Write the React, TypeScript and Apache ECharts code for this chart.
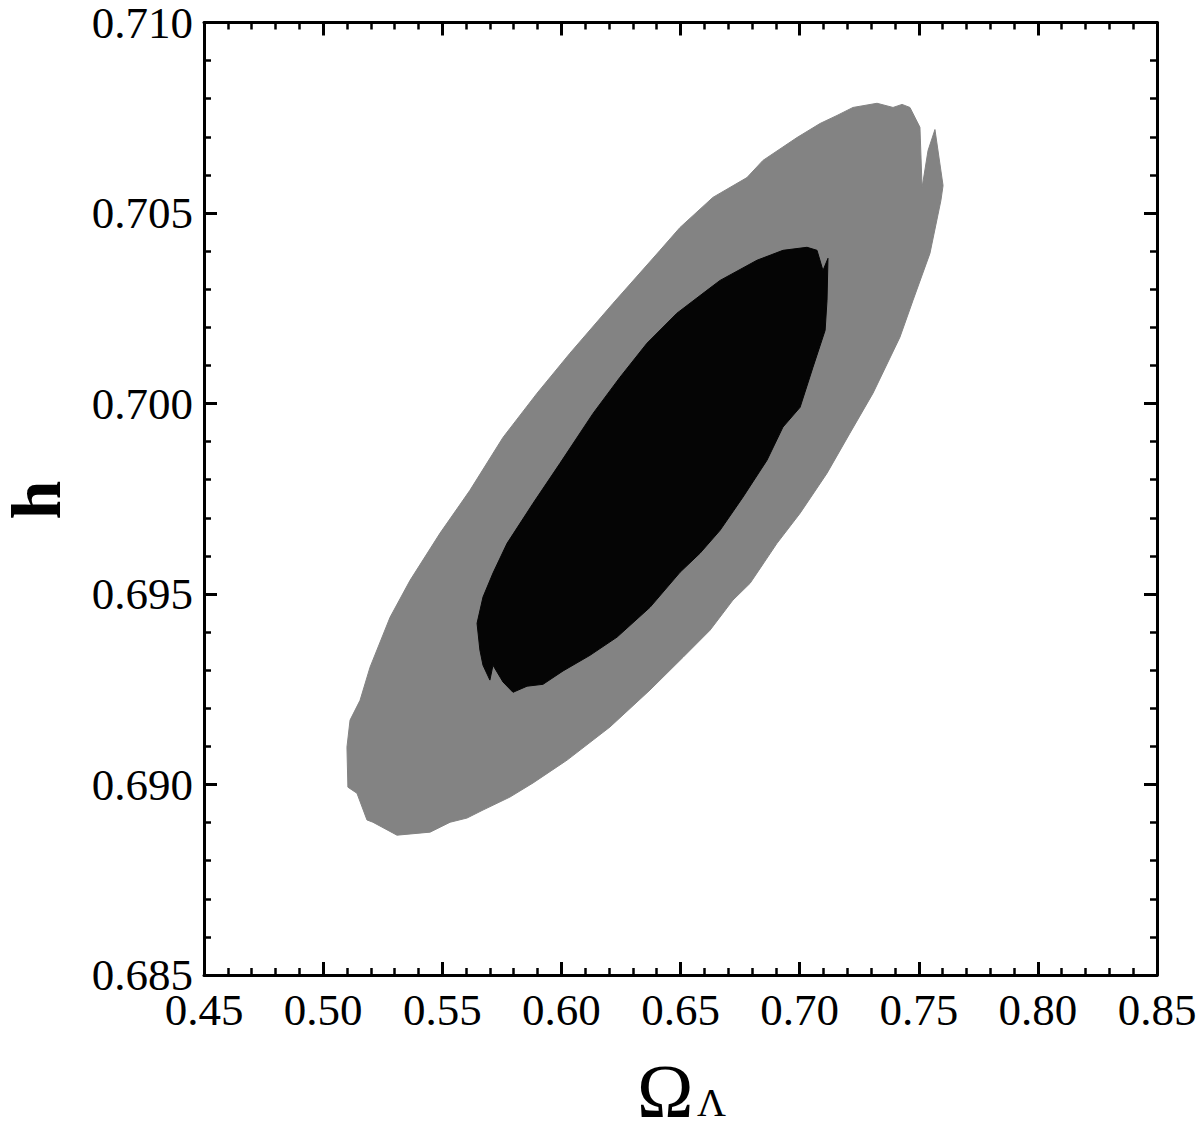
import React, { useEffect, useRef } from "react";
import * as echarts from "echarts";

// Axis ranges and ticks
const X_MIN = 0.45;
const X_MAX = 0.85;
const X_STEP = 0.05;
const Y_MIN = 0.685;
const Y_MAX = 0.71;
const Y_STEP = 0.005;

// Outer (2-sigma, gray) contour: Omega_Lambda and h
const outerOmega = [
  0.5100, 0.5104, 0.5142, 0.5184, 0.5209, 0.5310, 0.5449, 0.5491, 0.5533, 0.5604,
  0.5671, 0.5784, 0.5881, 0.6024, 0.6204, 0.6372, 0.6511, 0.6624, 0.6720, 0.6792,
  0.6905, 0.7002, 0.7115, 0.7211, 0.7308, 0.7421, 0.7476, 0.7547, 0.7593, 0.7602,
  0.7568, 0.7539, 0.7514, 0.7505, 0.7463, 0.7430, 0.7392, 0.7325, 0.7224, 0.7157,
  0.7086, 0.6989, 0.6846, 0.6779, 0.6636, 0.6498, 0.6414, 0.6217, 0.6036, 0.5898,
  0.5755, 0.5616, 0.5491, 0.5365, 0.5281, 0.5197, 0.5155, 0.5113,
];
const outerH = [
  0.69098, 0.68993, 0.68977, 0.68907, 0.68901, 0.68867, 0.68875, 0.68888, 0.68901, 0.68912,
  0.68933, 0.68967, 0.69004, 0.69064, 0.69151, 0.69248, 0.69334, 0.69405, 0.69484, 0.69528,
  0.69633, 0.69712, 0.69817, 0.69922, 0.70027, 0.70174, 0.70271, 0.70394, 0.70533, 0.70572,
  0.70719, 0.70664, 0.70567, 0.70725, 0.70777, 0.70785, 0.70777, 0.70788, 0.70777, 0.70756,
  0.70735, 0.70698, 0.70638, 0.70593, 0.70541, 0.70462, 0.70402, 0.70263, 0.70132, 0.70027,
  0.69911, 0.69772, 0.69660, 0.69536, 0.69439, 0.69308, 0.69221, 0.69169,
];

// Inner (1-sigma, black) contour
const innerOmega = [
  0.5646, 0.5658, 0.5671, 0.5700, 0.5713, 0.5755, 0.5797, 0.5856, 0.5923, 0.6007,
  0.6120, 0.6234, 0.6372, 0.6498, 0.6582, 0.6666, 0.6762, 0.6863, 0.6930, 0.7002,
  0.7056, 0.7107, 0.7115, 0.7119, 0.7098, 0.7073, 0.7031, 0.6930, 0.6821, 0.6666,
  0.6611, 0.6485, 0.6359, 0.6246, 0.6133, 0.5994, 0.5881, 0.5772, 0.5713, 0.5671,
];
const innerH = [
  0.69423, 0.69353, 0.69313, 0.69274, 0.69313, 0.69269, 0.69242, 0.69258, 0.69263, 0.69298,
  0.69339, 0.69387, 0.69465, 0.69557, 0.69607, 0.69667, 0.69754, 0.69851, 0.69938, 0.69990,
  0.70095, 0.70192, 0.70271, 0.70381, 0.70349, 0.70402, 0.70410, 0.70402, 0.70376, 0.70323,
  0.70297, 0.70237, 0.70158, 0.70069, 0.69974, 0.69843, 0.69738, 0.69633, 0.69555, 0.69492,
];

const FONT = "Liberation Serif";

function contourSeries(xs: number[], ys: number[], fill: string, z: number) {
  return {
    type: "custom",
    xAxisIndex: 0,
    yAxisIndex: 0,
    z,
    clip: true,
    data: [[xs[0], ys[0]]],
    renderItem: (_params: any, api: any) => ({
      type: "polygon",
      shape: { points: xs.map((x, i) => api.coord([x, ys[i]])) },
      style: { fill, stroke: fill, lineWidth: 1 },
    }),
  };
}

function makeAxis(kind: "x" | "y", position: string, showLabel: boolean) {
  const isX = kind === "x";
  return {
    type: "value",
    position,
    min: isX ? X_MIN : Y_MIN,
    max: isX ? X_MAX : Y_MAX,
    interval: isX ? X_STEP : Y_STEP,
    axisLine: { show: true, onZero: false, lineStyle: { color: "#000", width: 3 } },
    axisTick: { show: true, inside: true, length: 13, lineStyle: { color: "#000", width: 3 } },
    minorTick: { show: true, splitNumber: 5, length: 7, lineStyle: { color: "#000", width: 2.5 } },
    splitLine: { show: false },
    minorSplitLine: { show: false },
    axisLabel: {
      show: showLabel,
      color: "#000",
      fontFamily: FONT,
      fontSize: 45,
      lineHeight: isX ? 45 : 34,
      margin: isX ? 12 : 11,
      formatter: (v: number) => (isX ? v.toFixed(2) : v.toFixed(3)),
    },
  };
}

export default function App() {
  const ref = useRef<HTMLDivElement>(null);
  useEffect(() => {
    if (!ref.current) return;
    const chart = echarts.init(ref.current, undefined, { renderer: "svg" });
    chart.setOption({
      animation: false,
      backgroundColor: "#fff",
      grid: { left: 204, right: 43, top: 22, bottom: 149, containLabel: false },
      xAxis: [makeAxis("x", "bottom", true), makeAxis("x", "top", false)],
      yAxis: [makeAxis("y", "left", true), makeAxis("y", "right", false)],
      series: [
        contourSeries(outerOmega, outerH, "#838383", 2),
        contourSeries(innerOmega, innerH, "#050505", 3),
      ],
      graphic: [
        {
          type: "text",
          x: 36,
          y: 500,
          rotation: Math.PI / 2,
          style: {
            text: "h",
            font: `bold 70px "${FONT}"`,
            lineHeight: 54,
            fill: "#000",
            align: "center",
            verticalAlign: "middle",
          },
        },
        {
          type: "text",
          x: 637,
          y: 1091,
          style: {
            text: "Ω",
            font: `76px "${FONT}"`,
            lineHeight: 56,
            fill: "#000",
            align: "left",
            verticalAlign: "middle",
          },
        },
        {
          type: "text",
          x: 697,
          y: 1102,
          style: {
            text: "Λ",
            font: `40px "${FONT}"`,
            lineHeight: 32,
            fill: "#000",
            align: "left",
            verticalAlign: "middle",
          },
        },
      ],
    });
    return () => chart.dispose();
  }, []);
  return (
    <div
      ref={ref}
      style={{ position: "fixed", left: 0, top: 0, width: 1200, height: 1124, background: "#fff" }}
    />
  );
}
